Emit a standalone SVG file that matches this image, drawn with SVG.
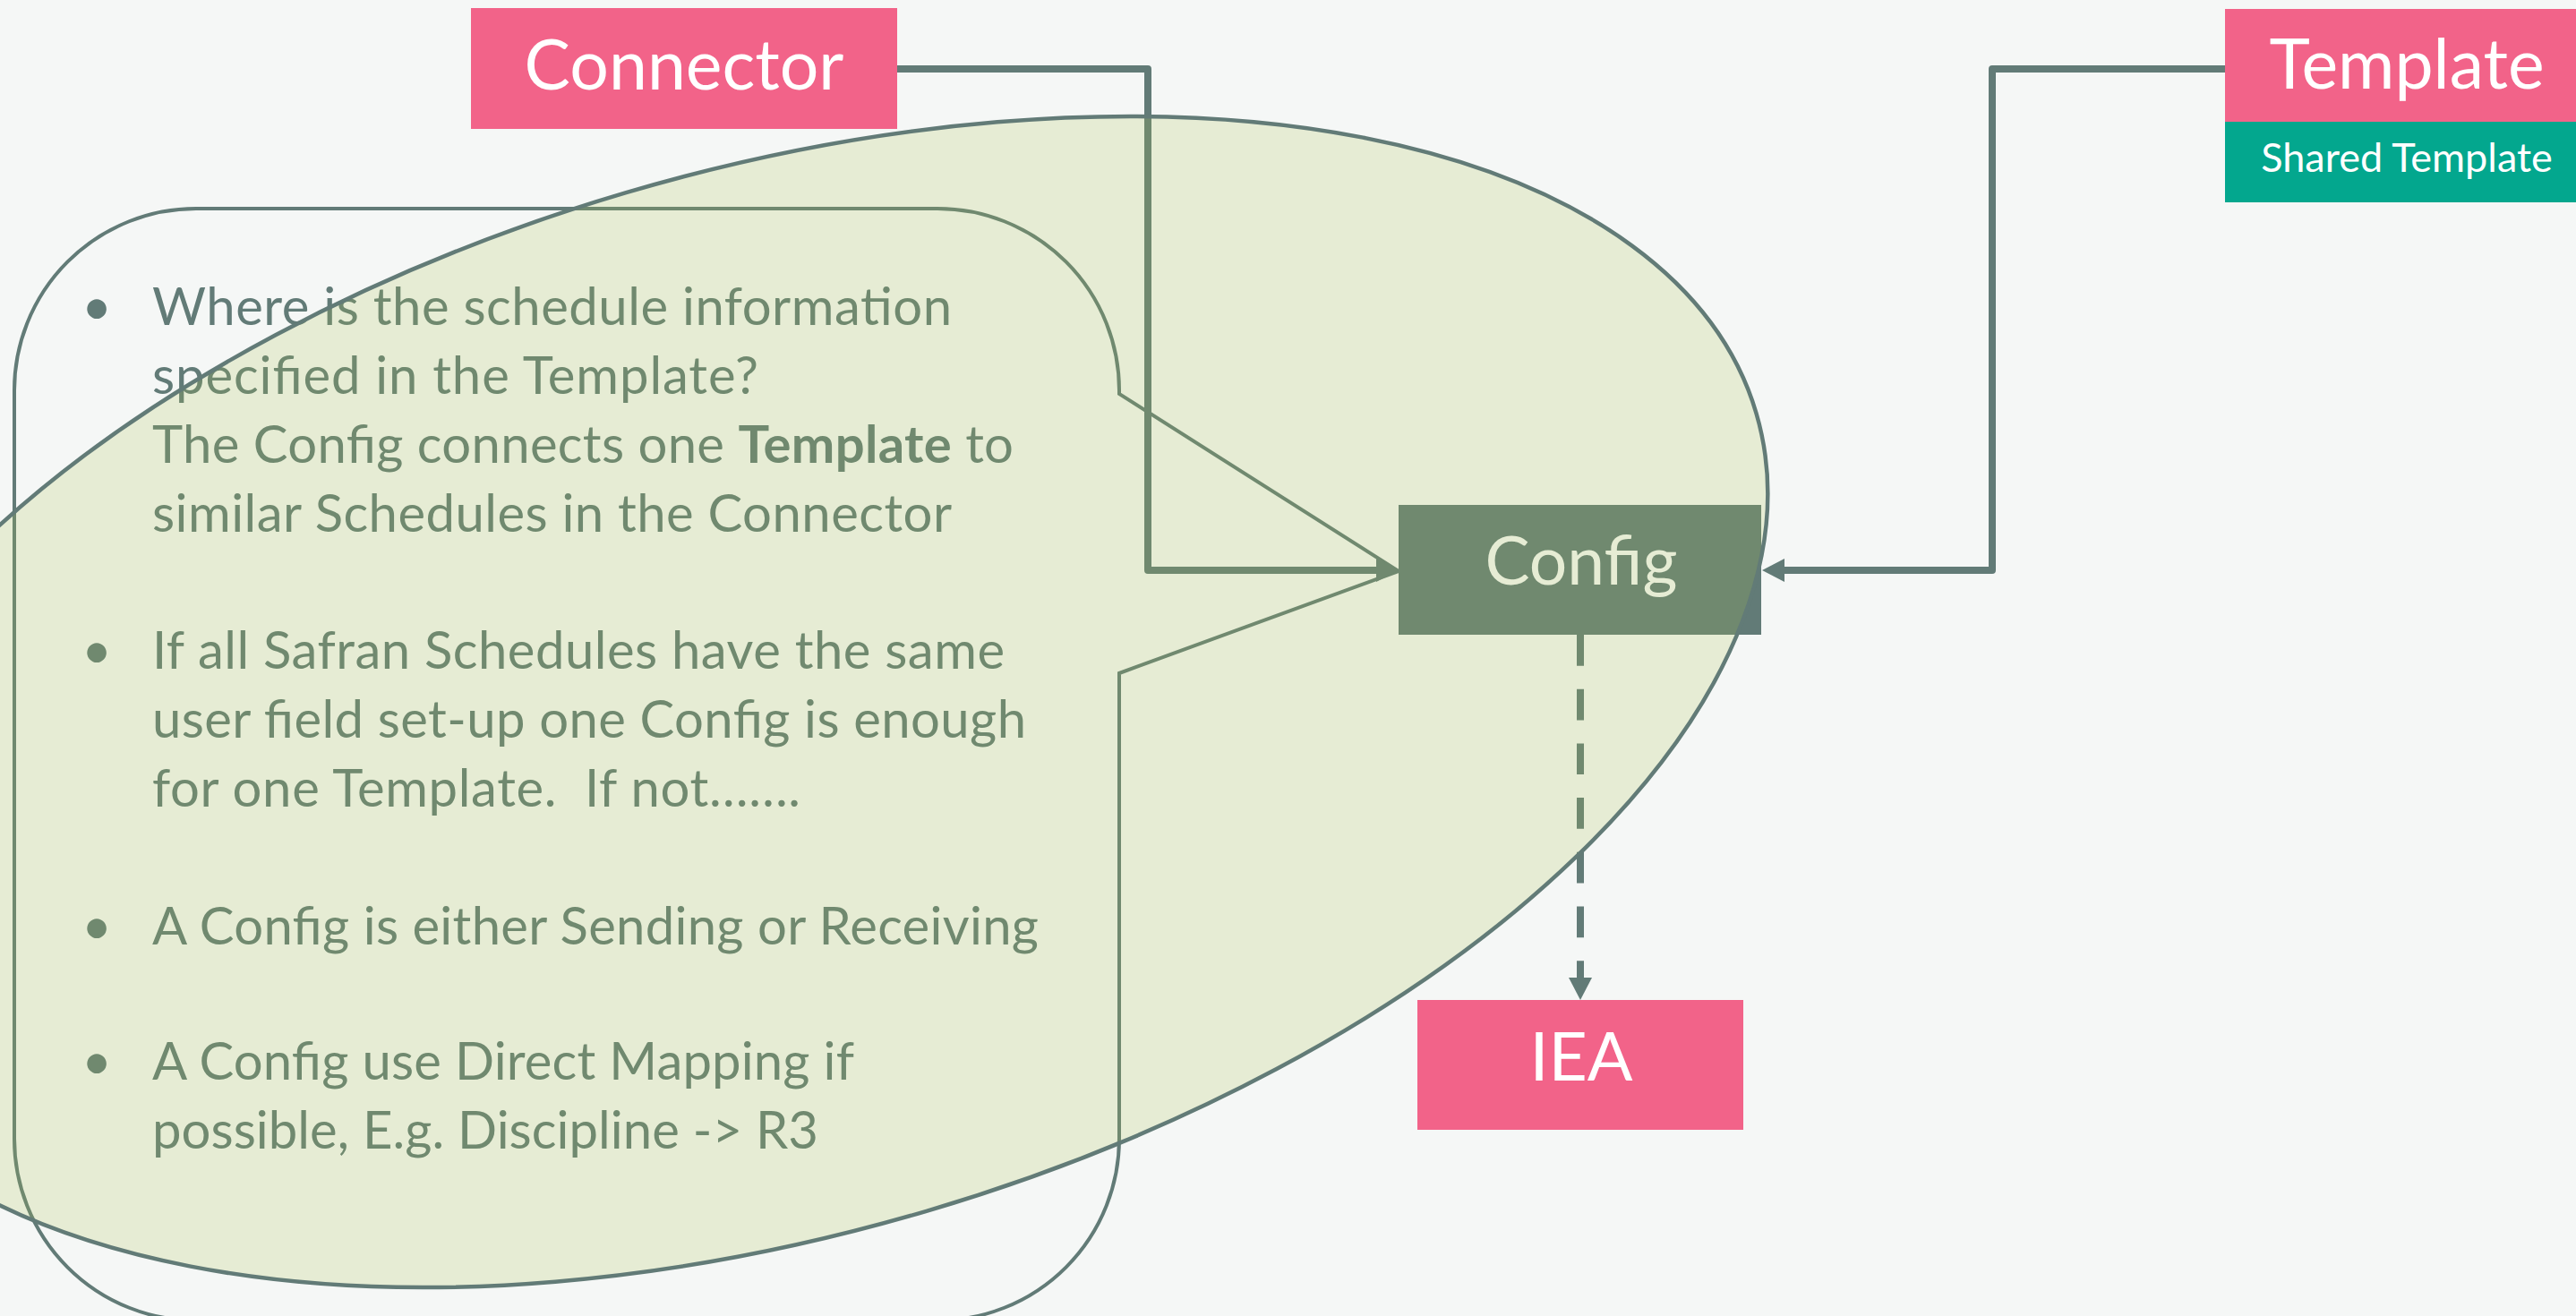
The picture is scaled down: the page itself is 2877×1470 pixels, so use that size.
<svg xmlns="http://www.w3.org/2000/svg" width="2877" height="1470" viewBox="0 0 2877 1470">
<defs>
<style>
.bg{fill:#f5f7f6}
.pink{fill:#f26389}
.teal{fill:#03a78e}
.slate{fill:#627b77}
.lbl{font-family:Lato,"Open Sans","Liberation Sans",sans-serif;fill:#ffffff;text-anchor:middle}
.cfg{font-family:Lato,"Open Sans","Liberation Sans",sans-serif;fill:#f5f7f6;text-anchor:middle}
.body{font-family:Lato,"Open Sans","Liberation Sans",sans-serif;font-size:58px;fill:#627b77}
.bul{font-family:Lato,"Open Sans","Liberation Sans",sans-serif;font-size:58px;fill:#627b77;text-anchor:middle}
.conn{fill:none;stroke:#627b77;stroke-width:8;stroke-linejoin:round}
.dash{fill:none;stroke:#627b77;stroke-width:8;stroke-dasharray:34.7 26}
.outline{fill:none;stroke:#627b77;stroke-width:4}
</style>
<marker id="arrow" markerUnits="userSpaceOnUse" markerWidth="26" markerHeight="26" refX="0" refY="13" orient="auto" viewBox="0 0 25 26">
<path d="M0,0 L25,13 L0,26 Z" fill="#627b77"/>
</marker>
</defs>
<rect class="bg" x="0" y="0" width="2877" height="1470"/>

<g id="callout">
<path class="outline" d="M16,436 A203,203 0 0 1 219,233 H1047 A203,203 0 0 1 1250,436 L1250,440 L1562,638 L1250,752 V1272 A203,203 0 0 1 1047,1475 H219 A203,203 0 0 1 16,1272 Z"/>
<g id="notes">
<text class="bul" x="108" y="363">•</text>
<text class="body" x="170" y="363" textLength="893">Where is the schedule information</text>
<text class="body" x="170" y="440" textLength="677">specified in the Template?</text>
<text class="body" x="170" y="517" textLength="962">The Config connects one <tspan font-weight="bold">Template</tspan> to</text>
<text class="body" x="170" y="594" textLength="893">similar Schedules in the Connector</text>
<text class="bul" x="108" y="747">•</text>
<text class="body" x="170" y="747" textLength="952">If all Safran Schedules have the same</text>
<text class="body" x="170" y="824" textLength="976">user field set-up one Config is enough</text>
<text class="body" x="170" y="901" textLength="724" xml:space="preserve">for one Template.  If not…….</text>
<text class="bul" x="108" y="1055">•</text>
<text class="body" x="170" y="1055" textLength="990">A Config is either Sending or Receiving</text>
<text class="bul" x="108" y="1206">•</text>
<text class="body" x="170" y="1206" textLength="784">A Config use Direct Mapping if</text>
<text class="body" x="170" y="1283" textLength="744">possible, E.g. Discipline -&gt; R3</text>
</g>
</g>

<g id="connectors">
<path class="conn" d="M1002,77 H1282 V637 H1537" marker-end="url(#arrow)"/>
<path class="conn" d="M2485,77 H2225 V637 H1993" marker-end="url(#arrow)"/>
<path class="dash" d="M1765,709 V1092" marker-end="url(#arrow)"/>
</g>

<g id="config">
<rect class="slate" x="1562" y="564" width="405" height="145"/>
<text class="cfg" x="1766" y="653" font-size="75">Config</text>
</g>

<g id="connector">
<rect class="pink" x="526" y="9" width="476" height="135"/>
<text class="lbl" x="764" y="100" font-size="77">Connector</text>
</g>

<g id="template">
<rect class="pink" x="2485" y="10" width="406" height="126"/>
<rect class="teal" x="2485" y="136" width="406" height="90"/>
<text class="lbl" x="2688" y="99" font-size="77">Template</text>
<text class="lbl" x="2688" y="192" font-size="45">Shared Template</text>
</g>

<g id="iea">
<rect class="pink" x="1583" y="1117" width="364" height="145"/>
<text class="lbl" x="1766" y="1207" font-size="75">IEA</text>
</g>

<g id="scope">
<ellipse cx="867" cy="784" rx="1141" ry="593" transform="rotate(-16.43 867 784)" fill="rgb(172,193,78)" fill-opacity="0.2" stroke="#627b77" stroke-width="4.5"/>
</g>
</svg>
